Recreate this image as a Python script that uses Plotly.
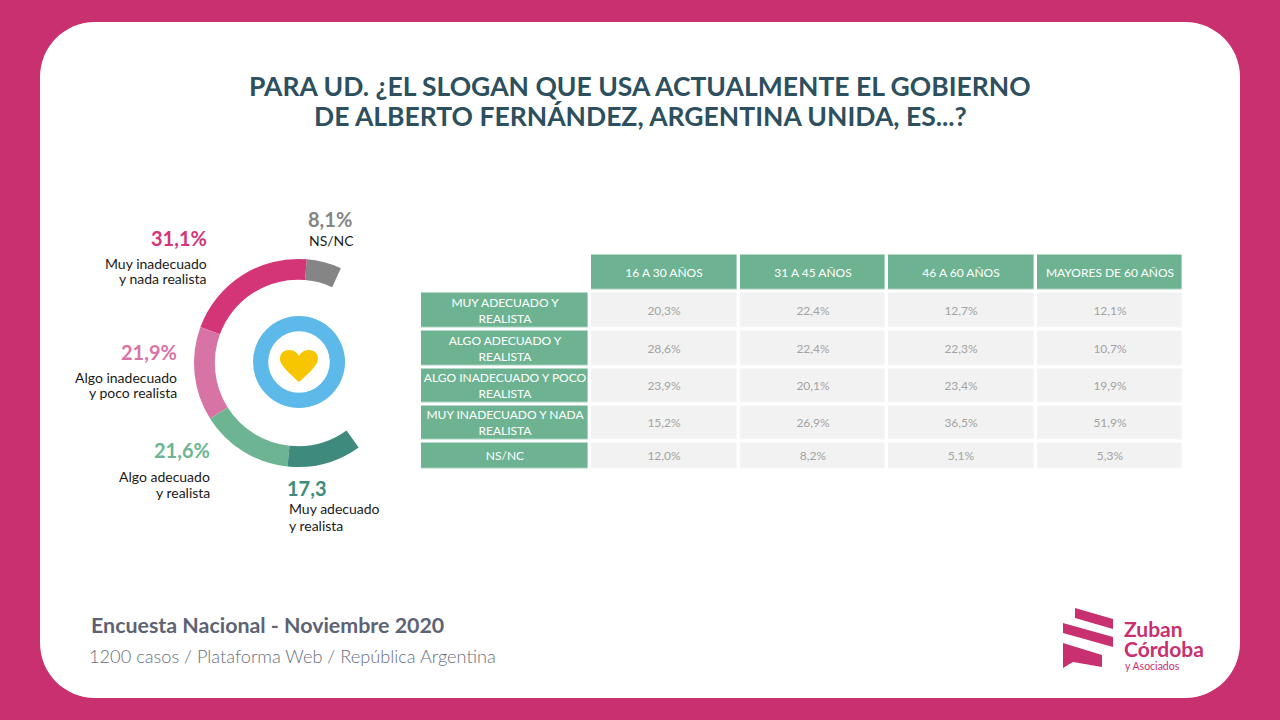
import plotly.graph_objects as go

W, H = 1280, 720

# --- data ---
donut_labels = ["NS/NC", "Muy inadecuado y nada realista", "Algo inadecuado y poco realista",
                "Algo adecuado y realista", "Muy adecuado y realista"]
donut_values = [8.1, 31.1, 21.9, 21.6, 17.3]
donut_colors = ["#858585", "#D43577", "#D873A6", "#6DB592", "#3E8A7D"]

row_labels = ["MUY ADECUADO Y<br>REALISTA", "ALGO ADECUADO Y<br>REALISTA",
              "ALGO INADECUADO Y POCO<br>REALISTA", "MUY INADECUADO Y NADA<br>REALISTA", "NS/NC"]
age_groups = ["16 A 30 AÑOS", "31 A 45 AÑOS", "46 A 60 AÑOS", "MAYORES DE 60 AÑOS"]
age_16_30 = [20.3, 28.6, 23.9, 15.2, 12.0]
age_31_45 = [22.4, 22.4, 20.1, 26.9, 8.2]
age_46_60 = [12.7, 22.3, 23.4, 36.5, 5.1]
age_60_plus = [12.1, 10.7, 19.9, 51.9, 5.3]

MAGENTA = "#C8306F"
GREEN = "#6DB392"
CELL_GREY = "#F2F2F2"
FONT = "Lato"
NAN = None


def px(x, y):
    """pixel position -> paper coords"""
    return x / W, 1 - y / H


def pstr(x, y):
    a, b = px(x, y)
    return f"{a:.5f},{b:.5f}"


def fmt(v):
    return f"{v:.1f}%".replace(".", ",")


fig = go.Figure()

# ==============================================================================
# DONUT (2/3 of a circle, last slice is the empty gap)
# ==============================================================================
cx, cy, r = 298, 363, 104
x0, y1 = px(cx - r, cy - r)
x1, y0 = px(cx + r, cy + r)
gap = sum(donut_values) / 2
total = sum(donut_values) + gap
# plotly puts the counter-clockwise edge of the first slice at `rotation`;
# we want its clockwise end at ~24 deg from 12 o'clock
rot = 24.3 - donut_values[0] / total * 360
fig.add_trace(go.Pie(
    values=donut_values + [gap], labels=donut_labels + ["gap"],
    marker=dict(colors=donut_colors + ["rgba(0,0,0,0)"]),
    hole=0.8, sort=False, direction="counterclockwise", rotation=rot,
    textinfo="none", hoverinfo="skip", showlegend=False,
    domain=dict(x=[x0, x1], y=[y0, y1])
))

# blue ring in the middle
bx, by, br = 299, 362, 46
x0, y1 = px(bx - br, by - br)
x1, y0 = px(bx + br, by + br)
fig.add_trace(go.Pie(
    values=[1], labels=["ring"], marker=dict(colors=["#5CB9E9"]),
    hole=0.67, sort=False, textinfo="none", hoverinfo="skip", showlegend=False,
    domain=dict(x=[x0, x1], y=[y0, y1])
))

# ==============================================================================
# TABLE (heatmap bricks with white gaps)
# ==============================================================================
col_w = [170, 148.5, 148.5, 148.5, 148.5]
row_h = [37.5, 38, 38, 37.5, 36.5, 29]
x_edges = [sum(col_w[:i]) for i in range(len(col_w) + 1)]
y_edges = [sum(row_h[:i]) for i in range(len(row_h) + 1)]
cols = [age_16_30, age_31_45, age_46_60, age_60_plus]
n_rows = len(row_labels)

z_green = [[NAN] + [1] * 4] + [[1] + [NAN] * 4 for _ in range(n_rows)]
t_green = [[""] + age_groups] + [[lab] + [""] * 4 for lab in row_labels]
z_grey = [[NAN] * 5] + [[NAN] + [1] * 4 for _ in range(n_rows)]
t_grey = [[""] * 5] + [[""] + [fmt(c[i]) for c in cols] for i in range(n_rows)]

for z, t, fill, tcol in [(z_green, t_green, GREEN, "white"), (z_grey, t_grey, CELL_GREY, "#A3A3A3")]:
    fig.add_trace(go.Heatmap(
        x=x_edges, y=y_edges, z=z, text=t, texttemplate="%{text}",
        textfont=dict(family=FONT, size=12, color=tcol),
        colorscale=[[0, fill], [1, fill]], zmin=0, zmax=1, showscale=False,
        xgap=3.4, ygap=3.4, hoverinfo="skip", xaxis="x", yaxis="y"
    ))

tx0, ty1 = px(420, 253.5)
tx1, ty0 = px(420 + x_edges[-1], 253.5 + y_edges[-1])

# ==============================================================================
# BACKGROUND CARD, HEART, LOGO
# ==============================================================================
shapes = []
x_l, y_t, x_r, y_b, rad = 40, 22, 1240, 698, 55
k = rad * 0.4477
card = (f"M {pstr(x_l + rad, y_t)} L {pstr(x_r - rad, y_t)} "
        f"C {pstr(x_r - k, y_t)} {pstr(x_r, y_t + k)} {pstr(x_r, y_t + rad)} "
        f"L {pstr(x_r, y_b - rad)} "
        f"C {pstr(x_r, y_b - k)} {pstr(x_r - k, y_b)} {pstr(x_r - rad, y_b)} "
        f"L {pstr(x_l + rad, y_b)} "
        f"C {pstr(x_l + k, y_b)} {pstr(x_l, y_b - k)} {pstr(x_l, y_b - rad)} "
        f"L {pstr(x_l, y_t + rad)} "
        f"C {pstr(x_l, y_t + k)} {pstr(x_l + k, y_t)} {pstr(x_l + rad, y_t)} Z")
shapes.append(dict(type="path", path=card, xref="paper", yref="paper",
                   fillcolor="white", line=dict(width=0), layer="below"))

hx, hy = 280, 350
heart_pts = [(19, 32), (8, 22), (0, 15), (0, 9), (0, 3), (4, 0), (9.5, 0), (14, 0), (17.5, 3), (19, 6),
             (20.5, 3), (24, 0), (28.5, 0), (34, 0), (38, 3), (38, 9), (38, 15), (30, 22), (19, 32)]
p = [pstr(hx + a, hy + b) for a, b in heart_pts]
heart = f"M {p[0]} C {p[1]} {p[2]} {p[3]} C {p[4]} {p[5]} {p[6]} C {p[7]} {p[8]} {p[9]} " \
        f"C {p[10]} {p[11]} {p[12]} C {p[13]} {p[14]} {p[15]} C {p[16]} {p[17]} {p[18]} Z"
shapes.append(dict(type="path", path=heart, xref="paper", yref="paper",
                   fillcolor="#F7C600", line=dict(width=0)))

stripes = [
    [(1075, 608), (1113, 619), (1113, 629), (1075, 618)],
    [(1063, 623), (1113, 637), (1113, 647), (1063, 633)],
    [(1063, 643), (1102, 655), (1102, 667), (1073, 662), (1063, 668)],
]
for s in stripes:
    path = "M " + " L ".join(pstr(a, b) for a, b in s) + " Z"
    shapes.append(dict(type="path", path=path, xref="paper", yref="paper",
                       fillcolor=MAGENTA, line=dict(width=0)))

# ==============================================================================
# TEXTS
# ==============================================================================
ann = []


def text(x, y, t, size, color, anchor="left", bold=False, weight=None):
    a, b = px(x, y)
    f = dict(family=FONT, size=size, color=color)
    if bold:
        f["weight"] = "bold"
    if weight:
        f["weight"] = weight
    ann.append(dict(x=a, y=b, xref="paper", yref="paper", text=t, showarrow=False,
                    xanchor=anchor, yanchor="middle", font=f, align=anchor))


def lines(x, y, rows, size, color, anchor, step=16):
    for i, t in enumerate(rows):
        text(x, y + i * step, t, size, color, anchor)


text(640, 86, "PARA UD. ¿EL SLOGAN QUE USA ACTUALMENTE EL GOBIERNO", 26.5, "#2D4F5E", "center", bold=True)
text(640, 116, "DE ALBERTO FERNÁNDEZ, ARGENTINA UNIDA, ES...?", 26.5, "#2D4F5E", "center", bold=True)

pct = [fmt(v) for v in donut_values]
INK = "#1A1A1A"
# NS/NC
text(306, 219, pct[0], 20, donut_colors[0], "left", bold=True)
lines(307, 241, ["NS/NC"], 14, INK, "left")
# Muy inadecuado
text(209, 238, pct[1], 20, donut_colors[1], "right", bold=True)
lines(209, 263, ["Muy inadecuado", "y nada realista"], 14, INK, "right")
# Algo inadecuado
text(179, 352, pct[2], 20, donut_colors[2], "right", bold=True)
lines(179, 377, ["Algo inadecuado", "y poco realista"], 14, INK, "right")
# Algo adecuado
text(212, 450, pct[3], 20, donut_colors[3], "right", bold=True)
lines(212, 476, ["Algo adecuado", "y realista"], 14, INK, "right")
# Muy adecuado (original shows no % sign)
text(285, 488, f"{donut_values[4]:.1f}".replace(".", ","), 20, donut_colors[4], "left", bold=True)
lines(287, 508, ["Muy adecuado", "y realista"], 14, INK, "left", step=17)

# footer
text(89, 625, "Encuesta Nacional - Noviembre 2020", 21.4, "#5E6374", "left", bold=True)
text(87, 656, "1200 casos / Plataforma Web / República Argentina", 18.2, "#6A6E7C", "left", weight=300)

# logo text
text(1122, 628, "Zuban", 21, MAGENTA, "left", bold=True)
text(1122, 648, "Córdoba", 21, MAGENTA, "left", bold=True)
text(1123, 666, "y Asociados", 10.5, MAGENTA, "left")

fig.update_layout(
    width=W, height=H, margin=dict(l=0, r=0, t=0, b=0),
    paper_bgcolor=MAGENTA, plot_bgcolor="white",
    xaxis=dict(domain=[tx0, tx1], range=[0, x_edges[-1]], visible=False, fixedrange=True),
    yaxis=dict(domain=[ty0, ty1], range=[y_edges[-1], 0], visible=False, fixedrange=True),
    shapes=shapes, annotations=ann, showlegend=False,
    font=dict(family=FONT)
)

fig.write_html("out.html", config={"displayModeBar": False},
               post_script="document.body.style.margin='0';document.body.style.overflow='hidden';")
